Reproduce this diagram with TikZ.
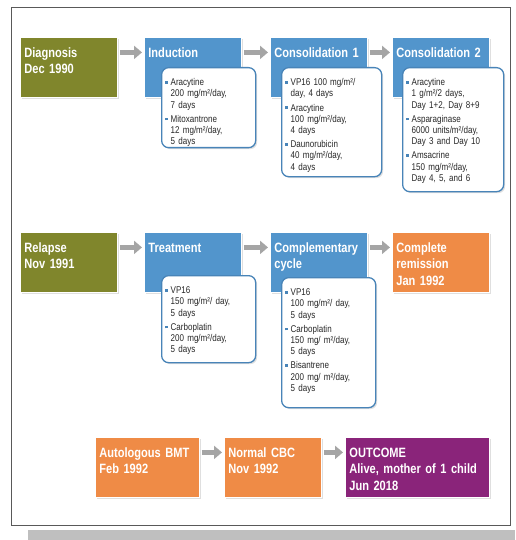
\documentclass[tikz,border=0pt]{standalone}
\usepackage{fontspec}
\setmainfont{Liberation Sans}[FakeStretch=0.82, WordSpace=0.8]
\usetikzlibrary{arrows.meta,shadows}
\definecolor{olivebox}{RGB}{128,134,44}
\definecolor{bluebox}{RGB}{82,149,204}
\definecolor{orangebox}{RGB}{239,139,70}
\definecolor{purplebox}{RGB}{138,36,122}
\definecolor{detblue}{RGB}{72,132,184}
\definecolor{arrgray}{RGB}{165,165,165}
\definecolor{dettext}{RGB}{40,40,40}
\newcommand{\itmark}{\leavevmode\llap{\textcolor{detblue}{\rule[2pt]{2.6pt}{2.6pt}}\hspace{2.6pt}}}
\begin{document}
\begin{tikzpicture}[x=1pt, y=-1pt,
  box/.style={anchor=north west, draw=white, line width=0.8pt, text=white, align=left,
    font=\bfseries\fontsize{13.5}{16.5}\selectfont, inner xsep=4pt, inner ysep=6pt,
    text height=14pt, text depth=34pt, text width=89pt,
    drop shadow={opacity=0.25, shadow xshift=1.5pt, shadow yshift=-1.5pt}},
  detail/.style={anchor=north west, draw=detblue, line width=1.3pt, fill=white,
    rounded corners=7pt, text=dettext, align=left, font=\fontsize{9.8}{11.2}\selectfont,
    inner xsep=9pt, inner ysep=0pt, text height=18pt, text width=76pt,
    drop shadow={opacity=0.25, shadow xshift=1.5pt, shadow yshift=-1.5pt}},
  flow/.style={->, draw=arrgray, line width=5pt, shorten <=2pt, shorten >=2pt},
  >={Triangle[width=13pt,length=8pt]}]
  \useasboundingbox[fill=white] (0,0) rectangle (515,540);
  % Frame and its shadow bar
  \fill[gray!50] (28,530) rectangle (515,540);
  \draw[gray!70!black, line width=1pt, fill=white] (11,8) rectangle (510,525);
  % Row 1
  \node[box, fill=olivebox] (diag)  at (20,37)  {Diagnosis\\Dec 1990};
  \node[box, fill=bluebox]  (ind)   at (144,37) {Induction};
  \node[box, fill=bluebox]  (cons1) at (270,37) {Consolidation 1};
  \node[box, fill=bluebox]  (cons2) at (392,37) {Consolidation 2};
  \draw[flow] ([yshift=15pt]diag.east)  -- ([yshift=15pt]ind.west);
  \draw[flow] ([yshift=15pt]ind.east)   -- ([yshift=15pt]cons1.west);
  \draw[flow] ([yshift=15pt]cons1.east) -- ([yshift=15pt]cons2.west);
  \node[detail, text depth=62pt] (ind-d) at (161,67)
    {\itmark Aracytine\\200 mg/m²/day,\\7 days\\[3pt]\itmark Mitoxantrone\\12 mg/m²/day,\\5 days};
  \node[detail, text depth=91pt, text width=82pt] (cons1-d) at (281,67)
    {\itmark VP16 100 mg/m²/\\day, 4 days\\[3pt]\itmark Aracytine\\100 mg/m²/day,\\4 days\\[3pt]\itmark Daunorubicin\\40 mg/m²/day,\\4 days};
  \node[detail, text depth=106pt, text width=83pt] (cons2-d) at (402,67)
    {\itmark Aracytine\\1 g/m²/2 days,\\Day 1+2, Day 8+9\\[3pt]\itmark Asparaginase\\6000 units/m²/day,\\Day 3 and Day 10\\[3pt]\itmark Amsacrine\\150 mg/m²/day,\\Day 4, 5, and 6};
  % Row 2
  \node[box, fill=olivebox]  (rel)   at (20,232)  {Relapse\\Nov 1991};
  \node[box, fill=bluebox]   (treat) at (144,232) {Treatment};
  \node[box, fill=bluebox]   (comp)  at (270,232) {Complementary\\cycle};
  \node[box, fill=orangebox] (remis) at (392,232) {Complete\\remission\\Jan 1992};
  \draw[flow] ([yshift=15pt]rel.east)   -- ([yshift=15pt]treat.west);
  \draw[flow] ([yshift=15pt]treat.east) -- ([yshift=15pt]comp.west);
  \draw[flow] ([yshift=15pt]comp.east)  -- ([yshift=15pt]remis.west);
  \node[detail, text depth=69pt] (treat-d) at (161,275)
    {\itmark VP16\\150 mg/m²/ day,\\5 days\\[3pt]\itmark Carboplatin\\200 mg/m²/day,\\5 days};
  \node[detail, text depth=112pt] (comp-d) at (281,277)
    {\itmark VP16\\100 mg/m²/ day,\\5 days\\[3pt]\itmark Carboplatin\\150 mg/ m²/day,\\5 days\\[3pt]\itmark Bisantrene\\200 mg/ m²/day,\\5 days};
  % Row 3
  \node[box, fill=orangebox, text width=96pt]  (bmt)  at (95,437)  {Autologous BMT\\Feb 1992};
  \node[box, fill=orangebox]                   (cbc)  at (224,437) {Normal CBC\\Nov 1992};
  \node[box, fill=purplebox, text width=136pt] (outc) at (345,437) {OUTCOME\\Alive, mother of 1 child\\Jun 2018};
  \draw[flow] ([yshift=15pt]bmt.east) -- ([yshift=15pt]cbc.west);
  \draw[flow] ([yshift=15pt]cbc.east) -- ([yshift=15pt]outc.west);
\end{tikzpicture}
\end{document}
